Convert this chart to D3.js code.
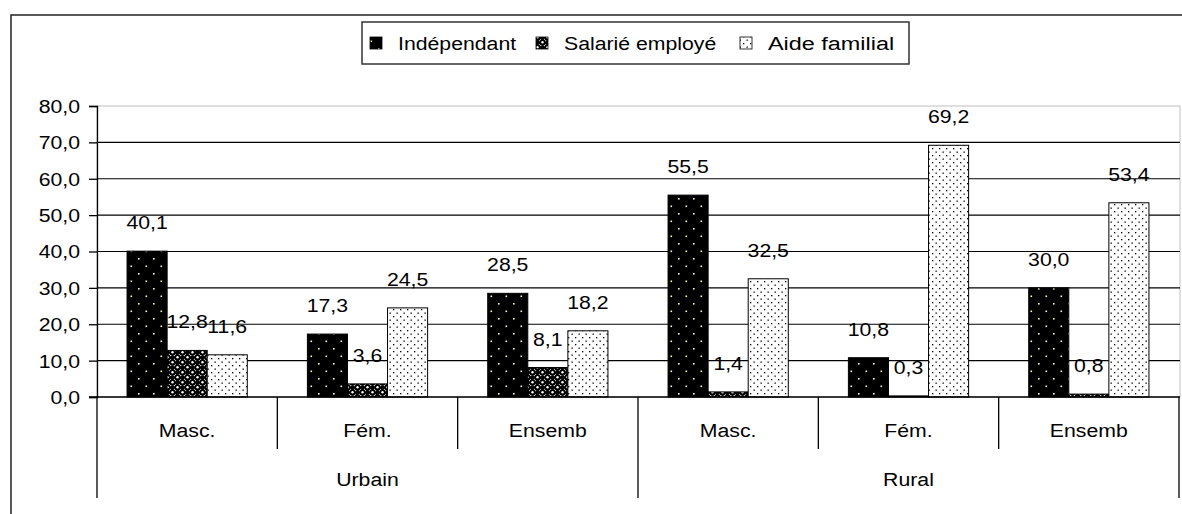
<!doctype html>
<html>
<head>
<style>
  body { margin: 0; background: #fff; }
  svg text { font-family: "Liberation Sans", Arial, sans-serif; font-size: 18px; fill: #000; }
</style>
<script src="https://d3js.org/d3.v7.min.js"></script>
</head>
<body>
<svg width="1182" height="514"></svg>
<script>
var groups = ["Urbain", "Rural"];
var categories = ["Masc.", "Fém.", "Ensemb"];
var series = ["Indépendant", "Salarié employé", "Aide familial"];
var independant = [40.1, 17.3, 28.5, 55.5, 10.8, 30.0];
var salarie = [12.8, 3.6, 8.1, 1.4, 0.3, 0.8];
var aide = [11.6, 24.5, 18.2, 32.5, 69.2, 53.4];
var yTicks = [0, 10, 20, 30, 40, 50, 60, 70, 80];

var values = [independant, salarie, aide];
var keys = [];
groups.forEach(function(g) { categories.forEach(function(c) { keys.push(g + "|" + c); }); });

var svg = d3.select("svg");
var fmt = function(v) { return v.toFixed(1).replace(".", ","); };

// text in the picture is slightly wider than Arial
function stretch(sel, k) {
  sel.each(function() {
    var w = this.getComputedTextLength();
    d3.select(this).attr("textLength", w * (k || 1.18)).attr("lengthAdjust", "spacingAndGlyphs");
  });
}

// patterns
var defs = svg.append("defs");
var p1 = defs.append("pattern").attr("id", "pat0").attr("patternUnits", "userSpaceOnUse")
  .attr("width", 15).attr("height", 15);
p1.append("rect").attr("width", 15).attr("height", 15).attr("fill", "#000");
p1.append("rect").attr("x", 3).attr("y", 3).attr("width", 1.6).attr("height", 1.6).attr("fill", "#ffffb0");
p1.append("rect").attr("x", 10.5).attr("y", 10.5).attr("width", 1.6).attr("height", 1.6).attr("fill", "#ffffb0");

var p2 = defs.append("pattern").attr("id", "pat1").attr("patternUnits", "userSpaceOnUse")
  .attr("width", 10).attr("height", 10);
p2.append("rect").attr("width", 10).attr("height", 10).attr("fill", "#fff");
p2.append("rect").attr("width", 5).attr("height", 5).attr("fill", "#000");
p2.append("rect").attr("x", 5).attr("y", 5).attr("width", 5).attr("height", 5).attr("fill", "#000");
p2.append("circle").attr("cx", 7.5).attr("cy", 2.5).attr("r", 2.6).attr("fill", "#000");
p2.append("circle").attr("cx", 2.5).attr("cy", 7.5).attr("r", 2.6).attr("fill", "#000");
p2.append("circle").attr("cx", 2.5).attr("cy", 2.2).attr("r", 1.2).attr("fill", "#fff");
p2.append("circle").attr("cx", 7.5).attr("cy", 7.2).attr("r", 1.2).attr("fill", "#fff");

var p3 = defs.append("pattern").attr("id", "pat2").attr("patternUnits", "userSpaceOnUse")
  .attr("width", 7).attr("height", 7);
p3.append("rect").attr("width", 7).attr("height", 7).attr("fill", "#fff");
p3.append("rect").attr("x", 1).attr("y", 1).attr("width", 1.3).attr("height", 1.3).attr("fill", "#000");
p3.append("rect").attr("x", 4.5).attr("y", 4.5).attr("width", 1.3).attr("height", 1.3).attr("fill", "#000");

// outer frame (cropped)
svg.append("path").attr("d", "M11,514V15H1182").attr("fill", "none")
  .attr("stroke", "#222").attr("stroke-width", 1.5);

var plotL = 97, plotR = 1179, plotT = 106, plotB = 397;
var x = d3.scaleBand().domain(keys).range([plotL, plotR]);
var xs = d3.scaleBand().domain(series).range([0, x.bandwidth()]).paddingOuter(0.75);
var y = d3.scaleLinear().domain([0, 80]).range([plotB, plotT]);

// plot area border
svg.append("rect").attr("x", plotL).attr("y", plotT).attr("width", plotR + 1 - plotL).attr("height", plotB - plotT)
  .attr("fill", "none").attr("stroke", "#c0c0c0").attr("stroke-width", 1);

// gridlines
svg.append("g").selectAll("line").data(yTicks.filter(function(t) { return t > 0 && t < 80; }))
  .enter().append("line")
  .attr("x1", plotL).attr("x2", plotR + 1)
  .attr("y1", function(d) { return y(d); }).attr("y2", function(d) { return y(d); })
  .attr("stroke", "#000").attr("stroke-width", 1.2);

// y axis
var yAxis = svg.append("g").attr("transform", "translate(" + plotL + ",0)")
  .call(d3.axisLeft(y).tickValues(yTicks).tickSize(8).tickPadding(9).tickFormat(fmt));
yAxis.select(".domain").attr("stroke", "#000").attr("stroke-width", 1.3);
yAxis.selectAll(".tick line").attr("stroke", "#000").attr("stroke-width", 1.3);
yAxis.selectAll("text").attr("font-size", null).attr("font-family", null).attr("dy", "0.36em").call(stretch);

// bars
series.forEach(function(s, i) {
  svg.append("g").selectAll("rect").data(values[i]).enter().append("rect")
    .attr("x", function(d, j) { return x(keys[j]) + xs(s); })
    .attr("y", function(d) { return y(d); })
    .attr("width", xs.bandwidth())
    .attr("height", function(d) { return y(0) - y(d); })
    .attr("fill", "url(#pat" + i + ")")
    .attr("stroke", "#000").attr("stroke-width", 1);
  svg.append("g").selectAll("text").data(values[i]).enter().append("text")
    .attr("x", function(d, j) { return x(keys[j]) + xs(s) + xs.bandwidth() / 2; })
    .attr("y", function(d) { return y(d) - 22; })
    .attr("text-anchor", "middle")
    .text(fmt)
    .call(stretch);
});

// category axis
svg.append("line").attr("x1", plotL - 8).attr("x2", plotR + 1).attr("y1", plotB).attr("y2", plotB)
  .attr("stroke", "#000").attr("stroke-width", 1.5);
var cg = svg.append("g");
keys.forEach(function(k, j) {
  var x0 = x(k);
  var isGroupEdge = j % categories.length === 0;
  cg.append("line").attr("x1", x0).attr("x2", x0).attr("y1", plotB)
    .attr("y2", isGroupEdge ? 498 : 449).attr("stroke", "#000").attr("stroke-width", 1.3);
  cg.append("text").attr("x", x0 + x.bandwidth() / 2).attr("y", 437)
    .attr("text-anchor", "middle").text(k.split("|")[1]).call(stretch);
});
cg.append("line").attr("x1", plotR).attr("x2", plotR).attr("y1", plotB).attr("y2", 498)
  .attr("stroke", "#000").attr("stroke-width", 1.3);
groups.forEach(function(g) {
  var a = x(g + "|" + categories[0]);
  var b = x(g + "|" + categories[categories.length - 1]) + x.bandwidth();
  cg.append("text").attr("x", (a + b) / 2).attr("y", 486)
    .attr("text-anchor", "middle").text(g).call(stretch);
});

// legend
var lg = svg.append("g");
lg.append("rect").attr("x", 362).attr("y", 22).attr("width", 547).attr("height", 42)
  .attr("fill", "#fff").attr("stroke", "#333").attr("stroke-width", 1.5);
var legendX = [370, 536, 740];
series.forEach(function(s, i) {
  lg.append("rect").attr("x", legendX[i]).attr("y", 37).attr("width", 12).attr("height", 12)
    .attr("fill", "url(#pat" + i + ")").attr("stroke", "#000").attr("stroke-width", 0.8);
  lg.append("text").attr("x", legendX[i] + 28).attr("y", 49.5).text(s).call(stretch, i === 2 ? 1.3 : 1.18);
});
</script>
</body>
</html>
